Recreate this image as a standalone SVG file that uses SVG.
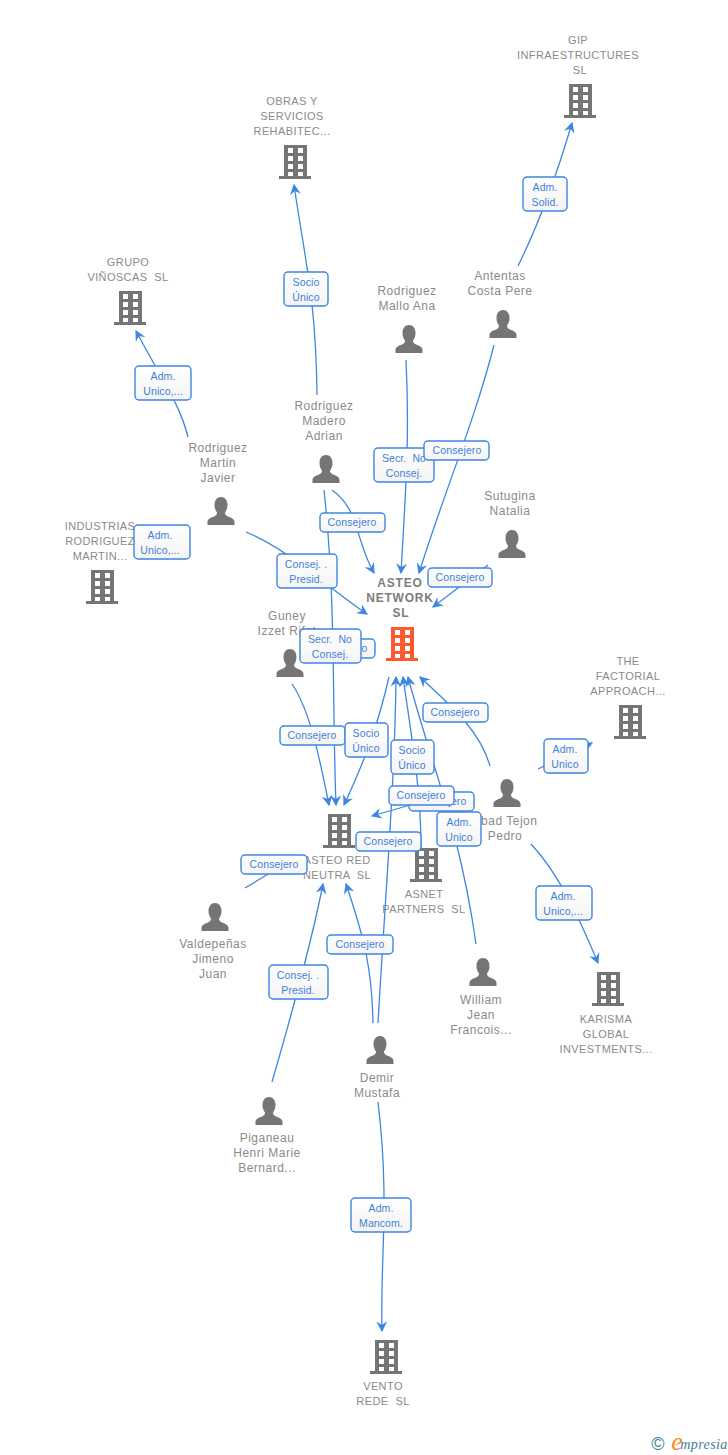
<svg xmlns="http://www.w3.org/2000/svg" width="728" height="1455" viewBox="0 0 728 1455">
<style>
text{font-family:"Liberation Sans",Arial,sans-serif;text-anchor:middle;white-space:pre}
.n{font-size:12px;fill:#8a8a8a;letter-spacing:.5px}
.u{font-size:11px;fill:#8a8a8a;letter-spacing:.4px}
.r{font-size:12px;font-weight:bold;fill:#7d7d7d;letter-spacing:.8px}
.l{font-size:10.5px;fill:#3f7fd8;letter-spacing:.1px}
.c path{fill:none;stroke:#3f86e0;stroke-width:1.3;marker-end:url(#a)}
.c path.p{marker-end:none}
.b{fill:url(#g);stroke:#3f86e0;stroke-width:1.4}
.bi{fill:#757575}
.br{fill:#fb5a2e}
</style>
<defs>
<marker id="a" viewBox="0 0 10 10" refX="9" refY="5" markerWidth="12" markerHeight="12" markerUnits="userSpaceOnUse" orient="auto"><path d="M10,5 L1,0.500 L4,5 L1,9.500 Z" fill="#3f86e0"/></marker>
<linearGradient id="g" x1="0" y1="0" x2="0" y2="1"><stop offset="0" stop-color="#fff"/><stop offset="1" stop-color="#f4f4f4"/></linearGradient>
<path id="bp" fill-rule="evenodd" d="M5,0H28V31H32V34H0V31H5ZM9,3V8H14V3ZM19,3V8H24V3ZM9,11V16H14V11ZM19,11V16H24V11ZM9,19V24H14V19ZM19,19V24H24V19ZM9,27V31H14V27ZM19,27V31H24V27Z"/>
<path id="pp" d="M14,0C18,0 20.500,3.500 20.500,8C20.500,11 19.500,13.500 18,15.500C18,17.500 19,18.500 21,19.500C24.500,21 27.500,22 27.500,25V28H0.500V25C0.500,22 3.500,21 7,19.500C9,18.500 10,17.500 10,15.500C8.500,13.500 7.500,11 7.500,8C7.500,3.500 10,0 14,0Z"/>
</defs>
<rect width="728" height="1455" fill="#fff"/>
<g id="node-gip"><text class="u" x="578" y="44">GIP</text><text class="u" x="578" y="59">INFRAESTRUCTURES</text><text class="u" x="580" y="74">SL</text><use href="#bp" class="bi" x="564" y="84"/></g>
<g id="node-obras"><text class="u" x="292" y="105">OBRAS Y</text><text class="u" x="292" y="120">SERVICIOS</text><text class="u" x="292" y="135">REHABITEC...</text><use href="#bp" class="bi" x="279" y="145"/></g>
<g id="node-grupo"><text class="u" x="128" y="266">GRUPO</text><text class="u" x="128" y="281">VIÑOSCAS  SL</text><use href="#bp" class="bi" x="114" y="291"/></g>
<g id="node-industrias"><text class="u" x="100" y="530">INDUSTRIAS</text><text class="u" x="100" y="545">RODRIGUEZ</text><text class="u" x="100" y="560">MARTIN...</text><use href="#bp" class="bi" x="86" y="570"/></g>
<g id="node-asteo"><text class="r" x="400" y="587">ASTEO</text><text class="r" x="400" y="602">NETWORK</text><text class="r" x="401" y="617">SL</text><use href="#bp" class="br" x="386" y="627"/></g>
<g id="node-factorial"><text class="u" x="628" y="665">THE</text><text class="u" x="628" y="680">FACTORIAL</text><text class="u" x="628" y="695">APPROACH...</text><use href="#bp" class="bi" x="614" y="705"/></g>
<g id="node-asteored"><text class="u" x="337" y="864">ASTEO RED</text><text class="u" x="337" y="879">NEUTRA  SL</text><use href="#bp" class="bi" x="323" y="814"/></g>
<g id="node-asnet"><use href="#bp" class="bi" x="410" y="848"/><text class="u" x="424" y="898">ASNET</text><text class="u" x="424" y="913">PARTNERS  SL</text></g>
<g id="node-karisma"><use href="#bp" class="bi" x="592" y="972"/><text class="u" x="606" y="1023">KARISMA</text><text class="u" x="606" y="1038">GLOBAL</text><text class="u" x="606" y="1053">INVESTMENTS...</text></g>
<g id="node-vento"><use href="#bp" class="bi" x="370" y="1340"/><text class="u" x="383" y="1390">VENTO</text><text class="u" x="383" y="1405">REDE  SL</text></g>
<g id="node-antentas"><text class="n" x="500" y="280">Antentas</text><text class="n" x="500" y="295">Costa Pere</text><use href="#pp" class="bi" x="489" y="310"/></g>
<g id="node-mallo"><text class="n" x="407" y="295">Rodriguez</text><text class="n" x="407" y="310">Mallo Ana</text><use href="#pp" class="bi" x="395" y="325"/></g>
<g id="node-madero"><text class="n" x="324" y="410">Rodriguez</text><text class="n" x="324" y="425">Madero</text><text class="n" x="324" y="440">Adrian</text><use href="#pp" class="bi" x="312" y="455"/></g>
<g id="node-martin"><text class="n" x="218" y="452">Rodriguez</text><text class="n" x="218" y="467">Martin</text><text class="n" x="218" y="482">Javier</text><use href="#pp" class="bi" x="207" y="497"/></g>
<g id="node-sutugina"><text class="n" x="510" y="500">Sutugina</text><text class="n" x="510" y="515">Natalia</text><use href="#pp" class="bi" x="498" y="530"/></g>
<g id="node-guney"><text class="n" x="287" y="620">Guney</text><text class="n" x="287" y="635">Izzet Rifat</text><use href="#pp" class="bi" x="276" y="649"/></g>
<g id="node-abad"><use href="#pp" class="bi" x="493" y="779"/><text class="n" x="505" y="825">Abad Tejon</text><text class="n" x="505" y="840">Pedro</text></g>
<g id="node-valdepenas"><use href="#pp" class="bi" x="201" y="903"/><text class="n" x="213" y="948">Valdepeñas</text><text class="n" x="213" y="963">Jimeno</text><text class="n" x="213" y="978">Juan</text></g>
<g id="node-william"><use href="#pp" class="bi" x="469" y="958"/><text class="n" x="481" y="1004">William</text><text class="n" x="481" y="1019">Jean</text><text class="n" x="481" y="1034">Francois...</text></g>
<g id="node-demir"><use href="#pp" class="bi" x="366" y="1036"/><text class="n" x="377" y="1082">Demir</text><text class="n" x="377" y="1097">Mustafa</text></g>
<g id="node-piganeau"><use href="#pp" class="bi" x="255" y="1097"/><text class="n" x="267" y="1142">Piganeau</text><text class="n" x="267" y="1157">Henri Marie</text><text class="n" x="267" y="1172">Bernard...</text></g>
<g id="connectors" class="c">
<path d="M518,266Q548,205 572,123"/>
<path d="M317,395C316,300 305,260 294,185"/>
<path d="M188,437C180,405 165,385 136,331"/>
<path d="M246,532C290,550 330,590 367,614"/>
<path d="M406,360C410,440 405,500 401,573"/>
<path d="M494,345C475,420 445,490 419,573"/>
<path d="M332,490C360,510 355,540 374,573"/>
<path d="M488,565L433,607"/>
<path d="M324,490C336,600 332,700 336,805"/>
<path d="M292,684C310,710 320,760 329,805"/>
<path d="M389,677C378,725 365,760 344,805"/>
<path d="M378,1023C385,900 395,780 396,677"/>
<path d="M421,848C421,790 412,740 403,677"/>
<path d="M476,944C460,830 430,760 408,677"/>
<path d="M490,766C480,730 450,705 420,677"/>
<path d="M538,769L592,743"/>
<path d="M531,844C560,875 580,920 598,963"/>
<path d="M378,1102C390,1200 380,1260 382,1331"/>
<path d="M445,795L372,816"/>
<path d="M373,1023C372,970 365,940 346,884"/>
<path d="M272,1082C290,1020 310,950 323,884"/>
<path class="p" d="M245,888L270,873"/>
</g>
<g id="labels">
<rect class="b" x="523" y="177" width="44" height="34" rx="4"/><text class="l" x="545" y="191">Adm.</text><text class="l" x="545" y="206">Solid.</text>
<rect class="b" x="284" y="272" width="44" height="34" rx="4"/><text class="l" x="306" y="286">Socio</text><text class="l" x="306" y="301">Único</text>
<rect class="b" x="135" y="366" width="56" height="34" rx="4"/><text class="l" x="163" y="380">Adm.</text><text class="l" x="163" y="395">Unico,...</text>
<rect class="b" x="134" y="525" width="56" height="34" rx="4"/><text class="l" x="160" y="539">Adm.</text><text class="l" x="160" y="554">Unico,...</text>
<rect class="b" x="374" y="448" width="60" height="34" rx="4"/><text class="l" x="404" y="462">Secr.  No</text><text class="l" x="404" y="477">Consej.</text>
<rect class="b" x="424" y="441" width="65" height="19" rx="4"/><text class="l" x="457" y="454">Consejero</text>
<rect class="b" x="320" y="513" width="65" height="19" rx="4"/><text class="l" x="352" y="526">Consejero</text>
<rect class="b" x="428" y="568" width="64" height="19" rx="4"/><text class="l" x="460" y="581">Consejero</text>
<rect class="b" x="277" y="554" width="60" height="34" rx="4"/><text class="l" x="306" y="568">Consej. .</text><text class="l" x="306" y="583">Presid.</text>
<rect class="b" x="311" y="639" width="64" height="19" rx="4"/><text class="l" x="343" y="652">Consejero</text>
<rect class="b" x="300" y="629" width="61" height="34" rx="4"/><text class="l" x="330" y="643">Secr.  No</text><text class="l" x="330" y="658">Consej.</text>
<rect class="b" x="280" y="726" width="65" height="19" rx="4"/><text class="l" x="312" y="739">Consejero</text>
<rect class="b" x="345" y="723" width="43" height="34" rx="4"/><text class="l" x="366" y="737">Socio</text><text class="l" x="366" y="752">Único</text>
<rect class="b" x="391" y="740" width="43" height="34" rx="4"/><text class="l" x="412" y="754">Socio</text><text class="l" x="412" y="769">Único</text>
<rect class="b" x="423" y="703" width="65" height="19" rx="4"/><text class="l" x="455" y="716">Consejero</text>
<rect class="b" x="544" y="739" width="44" height="34" rx="4"/><text class="l" x="565" y="753">Adm.</text><text class="l" x="565" y="768">Unico</text>
<rect class="b" x="409" y="792" width="65" height="19" rx="4"/><text class="l" x="442" y="805">Consejero</text>
<rect class="b" x="389" y="786" width="65" height="19" rx="4"/><text class="l" x="421" y="799">Consejero</text>
<rect class="b" x="437" y="812" width="44" height="34" rx="4"/><text class="l" x="459" y="826">Adm.</text><text class="l" x="459" y="841">Unico</text>
<rect class="b" x="356" y="832" width="65" height="19" rx="4"/><text class="l" x="388" y="845">Consejero</text>
<rect class="b" x="241" y="855" width="66" height="19" rx="4"/><text class="l" x="274" y="868">Consejero</text>
<rect class="b" x="536" y="886" width="56" height="34" rx="4"/><text class="l" x="563" y="900">Adm.</text><text class="l" x="563" y="915">Unico,...</text>
<rect class="b" x="327" y="935" width="66" height="19" rx="4"/><text class="l" x="360" y="948">Consejero</text>
<rect class="b" x="269" y="965" width="59" height="34" rx="4"/><text class="l" x="298" y="979">Consej. .</text><text class="l" x="298" y="994">Presid.</text>
<rect class="b" x="351" y="1198" width="60" height="34" rx="4"/><text class="l" x="381" y="1212">Adm.</text><text class="l" x="381" y="1227">Mancom.</text>
</g>
<g id="credit">
<text x="658" y="1450" style="font-size:18px;fill:#3d7d96">©</text>
<text x="677" y="1450" style="font-family:'Liberation Serif',serif;font-style:italic;font-size:26px;fill:#f58a1f">e</text>
<text x="704" y="1449" style="font-family:'Liberation Serif',serif;font-style:italic;font-size:14px;fill:#3d7d96;letter-spacing:.4px">mpresia</text>
</g>
</svg>
